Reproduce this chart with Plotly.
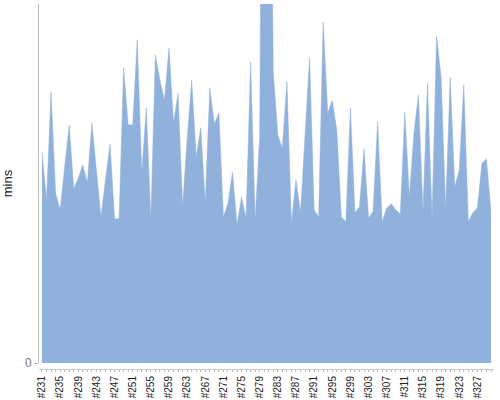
import plotly.graph_objects as go

builds = [f"#{n}" for n in range(231, 331)]
mins = [35.3, 27.2, 45.3, 28.4, 25.6, 32.3, 39.8, 29.1, 30.9, 33.1,
        30.1, 40.1, 32.3, 24.4, 30.6, 36.6, 24.1, 24.1, 49.3, 39.8,
        39.8, 54.0, 31.7, 42.6, 23.9, 51.5, 47.3, 43.9, 52.6, 40.1,
        45.1, 26.1, 37.3, 47.3, 34.4, 39.3, 26.7, 46.0, 39.9, 41.8,
        24.4, 26.7, 31.9, 23.1, 27.7, 24.2, 50.3, 23.9, 38.0, 160.0,
        125.0, 48.5, 38.1, 35.9, 47.0, 23.4, 30.6, 25.1, 38.4, 51.0,
        25.6, 24.4, 57.0, 41.8, 43.9, 38.9, 24.4, 23.6, 42.6, 25.1,
        26.1, 35.8, 24.2, 25.4, 40.3, 23.6, 25.9, 26.6, 25.6, 24.9,
        41.9, 27.7, 38.4, 44.8, 25.2, 46.8, 24.2, 54.6, 47.8, 25.6,
        47.8, 29.4, 32.3, 46.5, 23.6, 25.1, 25.9, 33.4, 34.1, 25.2]
label_every = 4
tick_text = [b if i % label_every == 0 else "" for i, b in enumerate(builds)]

fig = go.Figure(go.Scatter(
    x=builds, y=mins, mode="lines", fill="tozeroy",
    fillcolor="#8FB1DB", line=dict(color="#8FB1DB", width=0.5),
    hoverinfo="x+y",
))

fig.update_layout(
    width=500, height=400,
    margin=dict(l=39, r=6, t=4, b=31),
    plot_bgcolor="white", paper_bgcolor="white",
    showlegend=False,
    font=dict(family="Liberation Sans, Arial, sans-serif", size=11, color="#222"),
    xaxis=dict(
        type="category", range=[-0.66, 99.66],
        tickmode="array", tickvals=builds, ticktext=tick_text,
        tickangle=-90, ticks="outside", ticklen=2, tickcolor="#bbb",
        showline=True, linecolor="#ccc", linewidth=1,
        showgrid=False, zeroline=False,
        anchor="free", position=0, automargin=False,
        tickfont=dict(size=10, color="#222"),
    ),
    yaxis=dict(
        range=[0, 60], domain=[0.0164, 1],
        tickmode="array", tickvals=[0], ticktext=["0"],
        ticks="outside", ticklen=4, tickcolor="#bbb",
        showline=True, linecolor="#bbb", linewidth=1,
        showgrid=False, zeroline=False, automargin=False,
        tickfont=dict(size=12, color="#777"),
        title=dict(text="mins", font=dict(size=13, color="#222"), standoff=10),
    ),
)

fig.write_html("out.html", post_script="document.body.style.margin='0';",
               config={"displayModeBar": False})
